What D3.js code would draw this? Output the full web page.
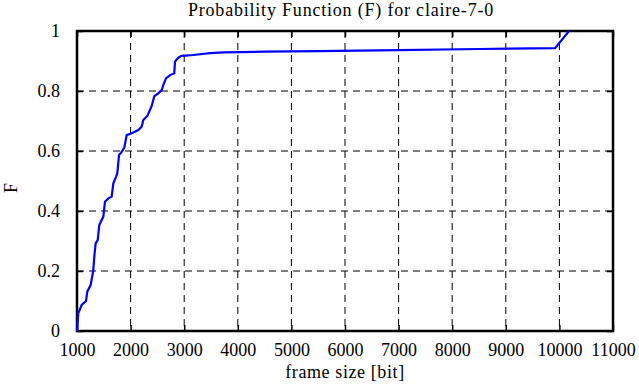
<!DOCTYPE html>
<html>
<head>
<meta charset="utf-8">
<script src="https://cdn.jsdelivr.net/npm/d3@7"></script>
<style>
  body { margin: 0; background: #fff; }
  svg { display: block; }
  svg text { font-family: "Liberation Serif", "Times New Roman", Times, serif; fill: #000; }
  .grid line { stroke: #000; stroke-width: 1; stroke-dasharray: 7,5; }
  .tick text { font-size: 18px; }
</style>
</head>
<body>
<svg id="chart" width="639" height="387"></svg>
<script>
// cumulative distribution
var frameSize = [1000, 1024, 1088, 1168, 1192, 1255, 1304, 1323, 1348, 1386, 1416, 1460, 1491, 1522,
  1585, 1647, 1678, 1728, 1752, 1784, 1821, 1883, 1927, 2020, 2144, 2206, 2237, 2312, 2394, 2442,
  2517, 2580, 2610, 2660, 2735, 2815, 2828, 2890, 2953, 3170, 3481, 3729, 4500, 5500, 7000, 8500,
  9920, 10180];
var probF = [0.0, 0.059, 0.087, 0.1, 0.131, 0.153, 0.203, 0.248, 0.292, 0.303, 0.353, 0.37, 0.381, 0.431,
  0.442, 0.448, 0.492, 0.514, 0.526, 0.587, 0.594, 0.611, 0.653, 0.659, 0.67, 0.681, 0.703, 0.717,
  0.75, 0.783, 0.792, 0.803, 0.82, 0.842, 0.853, 0.859, 0.898, 0.911, 0.917, 0.92, 0.926, 0.929,
  0.931, 0.933, 0.936, 0.94, 0.943, 1.0];
var xTicks = [1000, 2000, 3000, 4000, 5000, 6000, 7000, 8000, 9000, 10000, 11000];
var yTicks = [0, 0.2, 0.4, 0.6, 0.8, 1];

var svg = d3.select("#chart"),
    margin = {top: 31, right: 26, bottom: 56, left: 77},
    width = +svg.attr("width") - margin.left - margin.right,
    height = +svg.attr("height") - margin.top - margin.bottom;

var x = d3.scaleLinear().domain([1000, 11000]).range([0, width]);
var y = d3.scaleLinear().domain([0, 1]).range([height, 0]);

var g = svg.append("g")
    .attr("transform", "translate(" + margin.left + "," + margin.top + ")");

// dashed grid
var grid = g.append("g").attr("class", "grid");
grid.selectAll("line.v")
    .data(xTicks.slice(1, -1))
    .enter().append("line")
    .attr("x1", function(d) { return x(d); })
    .attr("x2", function(d) { return x(d); })
    .attr("y1", 0).attr("y2", height);
grid.selectAll("line.h")
    .data(yTicks.slice(1, -1))
    .enter().append("line")
    .attr("x1", 0).attr("x2", width)
    .attr("y1", function(d) { return y(d); })
    .attr("y2", function(d) { return y(d); });

function styleAxis(a) {
    a.attr("font-family", null).attr("font-size", null);
    a.select(".domain").remove();
    a.selectAll("line").attr("stroke-width", 1.5);
}

// axes, ticks pointing inward, mirrored on top/right
g.append("g")
    .attr("transform", "translate(0," + height + ")")
    .call(d3.axisBottom(x).tickValues(xTicks).tickSize(-6).tickPadding(12).tickFormat(d3.format("d")))
    .call(styleAxis);
g.append("g")
    .call(d3.axisTop(x).tickValues(xTicks).tickSize(-6).tickFormat(""))
    .call(styleAxis);
g.append("g")
    .call(d3.axisLeft(y).tickValues(yTicks).tickSize(-6).tickPadding(17).tickFormat(function(d) { return d3.format("")(d); }))
    .call(styleAxis);
g.append("g")
    .attr("transform", "translate(" + width + ",0)")
    .call(d3.axisRight(y).tickValues(yTicks).tickSize(-6).tickFormat(""))
    .call(styleAxis);

g.selectAll(".tick text")
    .style("font-family", "'Liberation Serif', 'Times New Roman', serif")
    .style("font-size", "18px");

// frame
g.append("rect")
    .attr("width", width).attr("height", height)
    .attr("fill", "none").attr("stroke", "#000").attr("stroke-width", 2.5);

// curve
var line = d3.line()
    .x(function(d) { return x(d[0]); })
    .y(function(d) { return y(d[1]); });
g.append("path")
    .datum(d3.zip(frameSize, probF))
    .attr("fill", "none")
    .attr("stroke", "#0000ff")
    .attr("stroke-width", 2.2)
    .attr("d", line);

// labels
svg.append("text")
    .attr("x", 341).attr("y", 16)
    .attr("text-anchor", "middle")
    .style("font-size", "18px").style("letter-spacing", "0.8px")
    .text("Probability Function (F) for claire-7-0");
svg.append("text")
    .attr("x", margin.left + width / 2).attr("y", 378)
    .attr("text-anchor", "middle")
    .style("font-size", "18px").style("letter-spacing", "0.6px")
    .text("frame size [bit]");
svg.append("text")
    .attr("transform", "translate(17,188) rotate(-90)")
    .attr("text-anchor", "middle")
    .style("font-size", "18px")
    .text("F");
</script>
</body>
</html>
